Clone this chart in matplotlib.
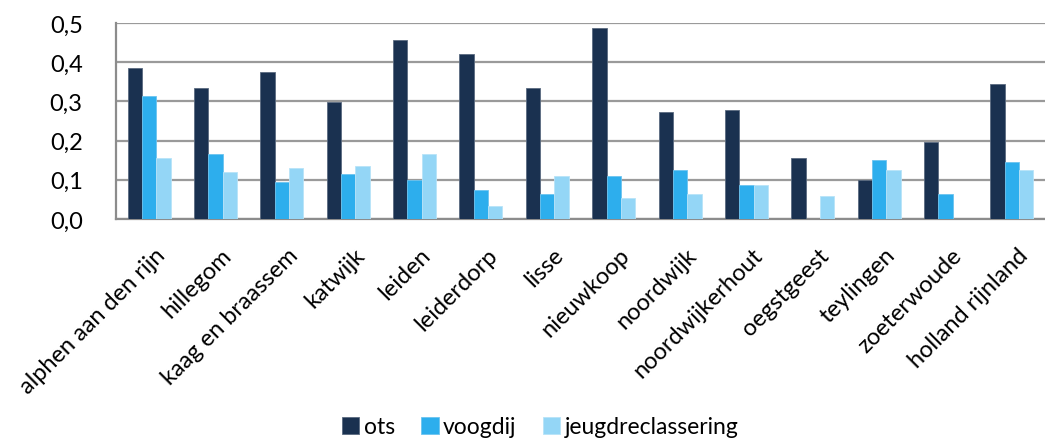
import matplotlib
matplotlib.use("Agg")
import matplotlib.pyplot as plt
import numpy as np

categories = ["alphen aan den rijn", "hillegom", "kaag en braassem", "katwijk", "leiden",
              "leiderdorp", "lisse", "nieuwkoop", "noordwijk", "noordwijkerhout",
              "oegstgeest", "teylingen", "zoeterwoude", "holland rijnland"]
ots = [0.384, 0.333, 0.374, 0.298, 0.456, 0.420, 0.333, 0.486, 0.272, 0.277, 0.155, 0.099, 0.196, 0.344]
voogdij = [0.313, 0.165, 0.095, 0.114, 0.099, 0.073, 0.063, 0.109, 0.124, 0.088, 0.0, 0.150, 0.063, 0.145]
jeugdreclassering = [0.155, 0.119, 0.129, 0.134, 0.165, 0.032, 0.109, 0.053, 0.063, 0.088, 0.058, 0.124, 0.0, 0.124]
series_names = ["ots", "voogdij", "jeugdreclassering"]
yticks = [0.0, 0.1, 0.2, 0.3, 0.4, 0.5]
ytick_labels = ["0,0", "0,1", "0,2", "0,3", "0,4", "0,5"]

colors = ["#1a3150", "#2daeed", "#94d6f6"]
edges = ["#5a6a80", "#6cc4f0", "#b8e3f8"]

plt.rcParams['font.family'] = ['Lato', 'DejaVu Sans']
FS = 17

fig = plt.figure(figsize=(10.45, 4.39), dpi=100)
ax = fig.add_axes([116/1045, 1 - 220/439, 1 - 116/1045, (220 - 24)/439])

x = np.arange(len(categories))
w = 0.216
for i, (vals, name) in enumerate(zip([ots, voogdij, jeugdreclassering], series_names)):
    ax.bar(x - 0.5 + 0.176 + w * i, vals, width=w, align='edge', color=colors[i],
           edgecolor=edges[i], linewidth=0.6, label=name, zorder=3)

ax.set_xlim(-0.5, len(categories) - 0.5)
ax.set_ylim(0, 0.5)
ax.set_yticks(yticks)
ax.set_yticklabels(ytick_labels, fontsize=FS)
ax.yaxis.grid(True, color="#9a9a9a", linewidth=1.6, zorder=0)
ax.set_axisbelow(True)
ax.tick_params(axis='y', length=0, pad=24)
ax.tick_params(axis='x', length=0, pad=18)
ax.set_xticks(x + 0.08)
ax.set_xticklabels(categories, rotation=45, ha='right', rotation_mode='anchor', fontsize=FS)
for s in ['top', 'right']:
    ax.spines[s].set_visible(False)
for s in ['left', 'bottom']:
    ax.spines[s].set_color("#8c8c8c")
    ax.spines[s].set_linewidth(1.6)

fig.legend(loc='lower center', bbox_to_anchor=(0.517, -0.045), ncol=3, frameon=False,
           fontsize=16.5, handlelength=0.75, handleheight=0.75, handletextpad=0.2, columnspacing=1.15)

fig.savefig("out.png", dpi=100)
